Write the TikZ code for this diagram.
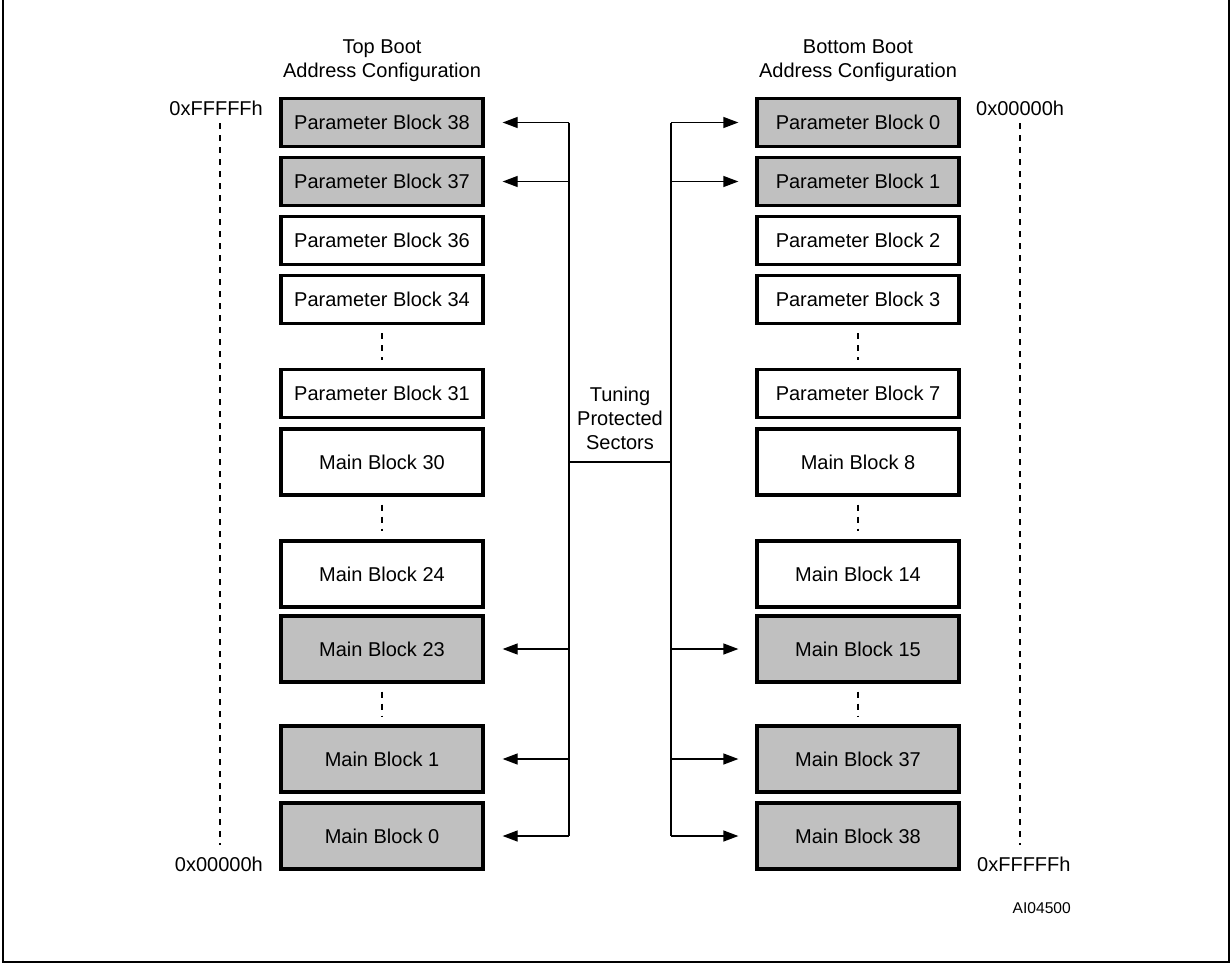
\documentclass[tikz,border=0pt]{standalone}
\usepackage{fontspec}
\setmainfont{Liberation Sans}
\usetikzlibrary{arrows.meta,calc}
\definecolor{blockgray}{HTML}{C0C0C0}
\tikzset{
  blk/.style={draw=black, line width=3.3pt, minimum width=202pt, inner sep=0pt, font=\fontsize{20}{23}\selectfont},
  pblk/.style={blk, minimum height=48pt},
  mblk/.style={blk, minimum height=66pt},
  prot/.style={fill=blockgray},
  free/.style={fill=white},
  conn/.style={line width=1.3pt, draw=black},
  arr/.style={conn, -{Triangle[length=15pt,width=11pt]}},
  addr/.style={line width=1.2pt, dash pattern=on 6pt off 6pt},
  gap/.style={line width=1.6pt, dash pattern=on 6pt off 6pt},
  lbl/.style={inner sep=0pt, font=\fontsize{20}{24}\selectfont, align=center},
}
\begin{document}
\begin{tikzpicture}[x=1pt,y=-1pt]
\useasboundingbox (0,0) rectangle (1231,964);
\draw[line width=2pt] (3,0) -- (3,962) -- (1229,962) -- (1229,0);

% headers
\node[lbl] (htop) at (382,61) {Top Boot\\Address Configuration};
\node[lbl] (hbot) at (858,61) {Bottom Boot\\Address Configuration};

% left column (top boot)
\node[pblk,prot] (l1) at (382,122.5) {Parameter Block 38};
\node[pblk,prot] (l2) at (382,181.5) {Parameter Block 37};
\node[pblk,free] (l3) at (382,240.5) {Parameter Block 36};
\node[pblk,free] (l4) at (382,299.5) {Parameter Block 34};
\node[pblk,free] (l5) at (382,393.5) {Parameter Block 31};
\node[mblk,free] (l6) at (382,462) {Main Block 30};
\node[mblk,free] (l7) at (382,574) {Main Block 24};
\node[mblk,prot] (l8) at (382,649) {Main Block 23};
\node[mblk,prot] (l9) at (382,759) {Main Block 1};
\node[mblk,prot] (l10) at (382,836) {Main Block 0};

% right column (bottom boot)
\node[pblk,prot] (r1) at (858,122.5) {Parameter Block 0};
\node[pblk,prot] (r2) at (858,181.5) {Parameter Block 1};
\node[pblk,free] (r3) at (858,240.5) {Parameter Block 2};
\node[pblk,free] (r4) at (858,299.5) {Parameter Block 3};
\node[pblk,free] (r5) at (858,393.5) {Parameter Block 7};
\node[mblk,free] (r6) at (858,462) {Main Block 8};
\node[mblk,free] (r7) at (858,574) {Main Block 14};
\node[mblk,prot] (r8) at (858,649) {Main Block 15};
\node[mblk,prot] (r9) at (858,759) {Main Block 37};
\node[mblk,prot] (r10) at (858,836) {Main Block 38};

% gaps (vertical dots)
\foreach \c in {l,r}{
  \draw[gap] ($(\c4.south)+(0,8)$) -- ($(\c5.north)+(0,-8)$);
  \draw[gap] ($(\c6.south)+(0,8)$) -- ($(\c7.north)+(0,-8)$);
  \draw[gap] ($(\c8.south)+(0,8)$) -- ($(\c9.north)+(0,-8)$);
}

% address labels and dashed lines
\node[lbl, anchor=east] (aft) at (263,108) {0xFFFFFh};
\node[lbl, anchor=east] (a0l) at (263,864) {0x00000h};
\node[lbl, anchor=west] (a0r) at (976,108) {0x00000h};
\node[lbl, anchor=west] (afr) at (977,864) {0xFFFFFh};
\draw[addr] (220,123) -- (220,845);
\draw[addr] (1020,123) -- (1020,845);

% buses
\coordinate (lbt) at (569,122.5);
\coordinate (lbb) at (569,836);
\coordinate (rbt) at (671,122.5);
\coordinate (rbb) at (671,836);
\draw[conn] (lbt) -- (lbb);
\draw[conn] (rbt) -- (rbb);
\coordinate (lbm) at (569,462);
\coordinate (rbm) at (671,462);
\draw[conn] (lbm) -- (rbm);
\node[lbl] (tps) at (620,418) {Tuning\\Protected\\Sectors};

\foreach \n in {1,2,8,9,10}{
  \draw[arr] (lbt |- l\n.east) -- ($(l\n.east)+(18,0)$);
  \draw[arr] (rbt |- r\n.west) -- ($(r\n.west)+(-17,0)$);
}

\node[inner sep=0pt, anchor=east, font=\fontsize{15.6}{18}\selectfont] (id) at (1071,908) {AI04500};
\end{tikzpicture}
\end{document}
